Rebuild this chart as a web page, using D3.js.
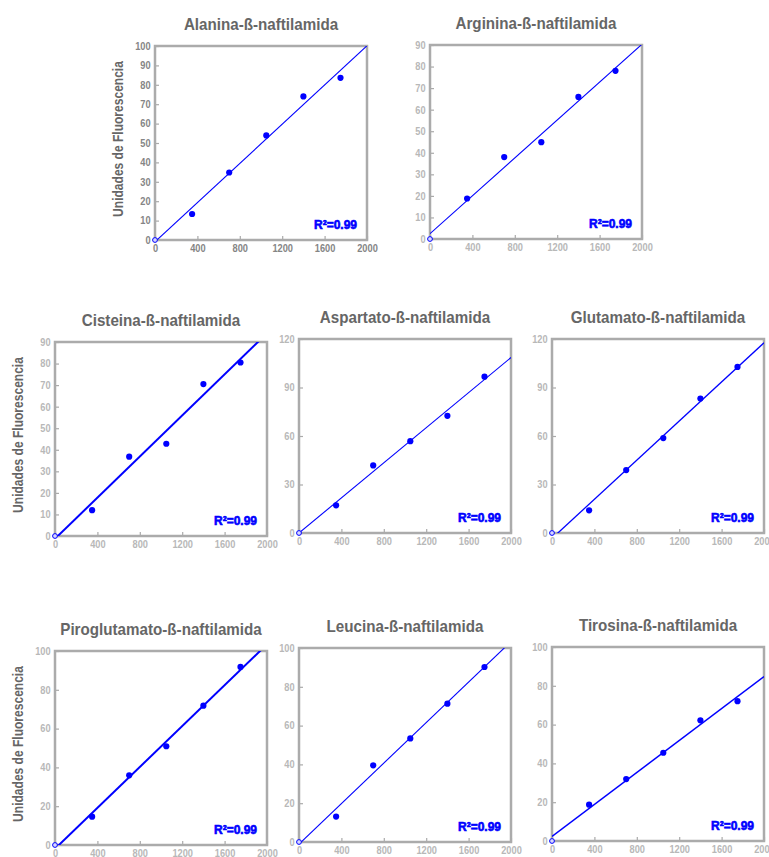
<!DOCTYPE html>
<html>
<head>
<meta charset="utf-8">
<script src="https://cdn.jsdelivr.net/npm/d3@7"></script>
<style>
  body { margin: 0; background: #fff; }
  .chart { width: 769px; height: 857px; }
  text { font-family: "Liberation Sans", Arial, sans-serif; }
</style>
</head>
<body>
<div class="chart"></div>
<script>

// concentracion de sustrato (eje x) y ticks
var concentraciones = [0, 350, 700, 1050, 1400, 1750];
var xTicks = [0, 400, 800, 1200, 1600, 2000];

var titulos = ["Alanina-ß-naftilamida", "Arginina-ß-naftilamida", "Cisteina-ß-naftilamida",
  "Aspartato-ß-naftilamida", "Glutamato-ß-naftilamida", "Piroglutamato-ß-naftilamida",
  "Leucina-ß-naftilamida", "Tirosina-ß-naftilamida"];

// unidades de fluorescencia
var alanina       = [0, 13.4, 34.8, 53.9, 74.0, 83.6];
var arginina      = [0, 18.8, 38.0, 44.9, 65.9, 78.0];
var cisteina      = [0, 12.0, 36.8, 42.8, 70.5, 80.5];
var aspartato     = [0, 17.1, 41.8, 56.8, 72.5, 96.7];
var glutamato     = [0, 14.0, 38.9, 58.7, 83.2, 102.7];
var piroglutamato = [0, 14.6, 35.9, 50.9, 71.8, 91.8];
var leucina       = [0, 13.1, 39.5, 53.4, 71.3, 90.2];
var tirosina      = [0, 18.7, 31.9, 45.5, 62.2, 72.1];

var series = [alanina, arginina, cisteina, aspartato, glutamato, piroglutamato, leucina, tirosina];

var yMaximos = [100, 90, 90, 120, 120, 100, 100, 100];
var yPasos   = [10, 10, 10, 30, 30, 20, 20, 20];
var r2Textos = ["R²=0.99", "R²=0.99", "R²=0.99", "R²=0.99", "R²=0.99", "R²=0.99", "R²=0.99", "R²=0.99"];
var yLabel = "Unidades de Fluorescencia";

// posicion de cada panel en la pagina
var paneles = [
  {left: 155, top: 46,  ylab: true,  tickColor: "#858585", lw: 1.1},
  {left: 430, top: 45,  ylab: false, tickColor: "#b8b8b8", lw: 1.1},
  {left: 55,  top: 342, ylab: true,  tickColor: "#b8b8b8", lw: 2},
  {left: 299, top: 339, ylab: false, tickColor: "#b8b8b8", lw: 1.1},
  {left: 552, top: 339, ylab: false, tickColor: "#b8b8b8", lw: 1.3},
  {left: 55,  top: 651, ylab: true,  tickColor: "#b8b8b8", lw: 2},
  {left: 299, top: 648, ylab: false, tickColor: "#b8b8b8", lw: 1.1},
  {left: 552, top: 647, ylab: false, tickColor: "#b8b8b8", lw: 1.5}
];
var width = 212, height = 194;

function linearFit(xs, ys) {
  var mx = d3.mean(xs), my = d3.mean(ys);
  var sxy = d3.sum(xs, function(x, i) { return (x - mx) * (ys[i] - my); });
  var sxx = d3.sum(xs, function(x) { return (x - mx) * (x - mx); });
  var m = sxy / sxx;
  return {m: m, b: my - m * mx};
}

var svg = d3.select(".chart").append("svg").attr("width", 769).attr("height", 857);

function drawPanel(i) {
  var p = paneles[i],
      ys = series[i];

  var x = d3.scaleLinear().domain([0, 2000]).range([0, width]),
      y = d3.scaleLinear().domain([0, yMaximos[i]]).range([height, 0]);

  var g = svg.append("g").attr("transform", "translate(" + p.left + "," + p.top + ")");

  g.append("clipPath").attr("id", "clip" + i)
    .append("rect").attr("width", width).attr("height", height);

  // titulo
  g.append("text")
    .attr("transform", "translate(" + (width / 2) + ",-16) scale(0.92,1)")
    .attr("text-anchor", "middle")
    .style("font-size", "16.5px")
    .style("font-weight", "bold")
    .style("fill", "#666")
    .text(titulos[i]);

  if (p.ylab) {
    g.append("text")
      .attr("transform", "translate(-32," + (height / 2 - 4) + ") rotate(-90) scale(0.86,1)")
      .attr("text-anchor", "middle")
      .style("font-size", "14px")
      .style("font-weight", "bold")
      .style("fill", "#666")
      .text(yLabel);
  }

  var yTicks = d3.range(0, yMaximos[i] + 0.1, yPasos[i]);

  var ax = g.append("g")
      .attr("class", "axis axis-x")
      .attr("transform", "translate(0," + height + ")")
      .call(d3.axisBottom(x).tickValues(xTicks).tickFormat(d3.format("d")).tickSizeInner(-4).tickSizeOuter(0).tickPadding(5));

  var ay = g.append("g")
      .attr("class", "axis axis-y")
      .call(d3.axisLeft(y).tickValues(yTicks).tickFormat(d3.format("d")).tickSizeInner(-4).tickSizeOuter(0).tickPadding(5));

  [ax, ay].forEach(function(a) {
    a.select(".domain").remove();
    a.selectAll("line").attr("stroke", "#aaa").attr("stroke-width", 1.2);
    a.selectAll("text")
      .attr("transform", "scale(0.88,1)")
      .style("font-size", "10.5px")
      .style("font-weight", "bold")
      .style("font-family", "'Liberation Sans', Arial, sans-serif")
      .style("fill", p.tickColor);
  });

  // marco
  g.append("rect")
    .attr("width", width).attr("height", height)
    .attr("fill", "none").attr("stroke", "#ababab").attr("stroke-width", 2.5);

  // recta de regresion
  var fit = linearFit(concentraciones, ys);
  var line = d3.line()
    .x(function(d) { return x(d); })
    .y(function(d) { return y(fit.m * d + fit.b); });

  g.append("path")
    .datum([0, 2000])
    .attr("clip-path", "url(#clip" + i + ")")
    .attr("d", line)
    .attr("fill", "none")
    .attr("stroke", "#0000ff")
    .attr("stroke-width", p.lw);

  var pts = concentraciones.map(function(c, k) { return {x: c, y: ys[k]}; });

  g.selectAll(".punto")
    .data(pts)
    .enter().append("circle")
      .attr("class", "punto")
      .attr("cx", function(d) { return x(d.x); })
      .attr("cy", function(d) { return y(d.y); })
      .attr("r", function(d) { return d.x === 0 ? 2.4 : 3.1; })
      .attr("fill", function(d) { return d.x === 0 ? "#d8d8ff" : "#0000ff"; })
      .attr("stroke", "#0000ff")
      .attr("stroke-width", function(d) { return d.x === 0 ? 1 : 0; });

  g.append("text")
    .attr("x", width - 10)
    .attr("y", height - 11)
    .attr("text-anchor", "end")
    .style("font-size", "12px")
    .style("font-weight", "bold")
    .style("fill", "#0000ff")
    .style("stroke", "#0000ff")
    .style("stroke-width", 0.6)
    .text(r2Textos[i]);
}

for (var i = 0; i < titulos.length; i++) {
  drawPanel(i);
}
</script>
</body>
</html>
